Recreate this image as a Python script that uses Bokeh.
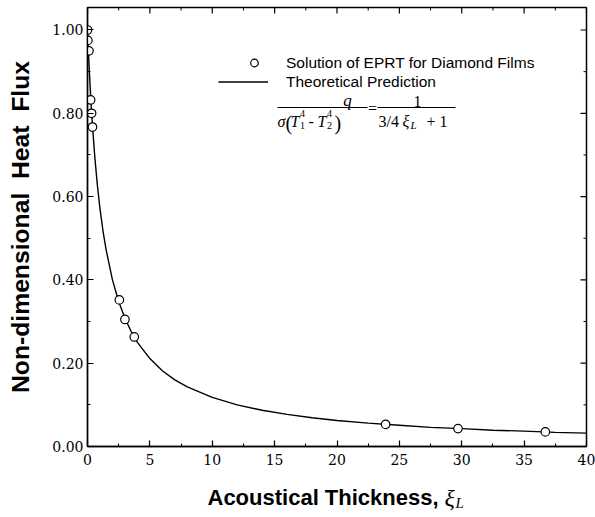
import math
from bokeh.plotting import figure
from bokeh.layouts import column
from bokeh.models import (Range1d, FixedTicker, PrintfTickFormatter,
                          Label, BoxAnnotation, Legend, LegendItem)
from bokeh.embed import file_html
from bokeh.resources import INLINE

# ---------------- data ----------------
curve_x = [0, 0.05, 0.1, 0.2, 0.3, 0.4, 0.6, 0.8, 1.0, 1.25, 1.5, 2.0, 2.5, 3.0,
           3.5, 4.0, 5, 6, 7, 8, 10, 12, 14, 16, 18, 20, 22.5, 25, 27.5, 30,
           32.5, 35, 37.5, 40]
curve_y = [1.000, 0.964, 0.930, 0.870, 0.816, 0.769, 0.690, 0.625, 0.571, 0.516,
           0.471, 0.400, 0.348, 0.308, 0.276, 0.250, 0.211, 0.182, 0.160, 0.143,
           0.118, 0.100, 0.087, 0.077, 0.069, 0.0625, 0.056, 0.051, 0.046, 0.043,
           0.039, 0.037, 0.034, 0.032]

eprt_x = [0.0, 0.03, 0.12, 0.25, 0.33, 0.40, 2.55, 3.0, 3.75, 23.9, 29.7, 36.7]
eprt_y = [1.000, 0.975, 0.950, 0.832, 0.800, 0.767, 0.352, 0.305, 0.263, 0.053, 0.043, 0.035]

x_ticks = [0, 5, 10, 15, 20, 25, 30, 35, 40]
x_minor = [2.5, 7.5, 12.5, 17.5, 22.5, 27.5, 32.5, 37.5]
y_ticks = [0.0, 0.2, 0.4, 0.6, 0.8, 1.0]
y_minor = [0.1, 0.3, 0.5, 0.7, 0.9]

legend_labels = ["Solution of EPRT for Diamond Films", "Theoretical Prediction"]
x_title = "Acoustical Thickness,"
y_title = "Non-dimensional\u00a0 Heat\u00a0 Flux"

# ---------------- layout ----------------
W = 595
H1 = 472           # main figure
H2 = 517 - H1      # strip holding the x title
BL, BR, BT, BB = 87, 9, 7, 26
XMAX, YMAX = 40, 1.054

p = figure(width=W, height=H1, x_range=Range1d(0, XMAX), y_range=Range1d(0, YMAX),
           output_backend="svg", toolbar_location=None,
           min_border_left=BL, min_border_right=BR, min_border_top=BT, min_border_bottom=BB)
p.xgrid.visible = False
p.ygrid.visible = False
p.outline_line_color = "black"
p.outline_line_width = 1.5
p.background_fill_color = "white"
p.border_fill_color = "white"


def px2d(px, py):
    fx = (px - BL) / (W - BL - BR) * XMAX
    fy = (H1 - BB - py) / (H1 - BT - BB) * YMAX
    return fx, fy


def style_axis(ax, ticks, minor):
    ax.ticker = FixedTicker(ticks=ticks, minor_ticks=minor)
    ax.major_tick_in = 6
    ax.major_tick_out = 0
    ax.minor_tick_in = 3
    ax.minor_tick_out = 0
    ax.axis_line_width = 1.3
    ax.axis_line_color = "black"
    ax.major_tick_line_color = "black"
    ax.minor_tick_line_color = "black"
    ax.major_tick_line_width = 1.2
    ax.minor_tick_line_width = 1.0
    ax.major_label_text_font = "DejaVu Serif"
    ax.major_label_text_color = "black"
    ax.major_label_text_font_size = "14px"


xa = p.xaxis[0]
ya = p.yaxis[0]
style_axis(xa, x_ticks, x_minor)
style_axis(ya, y_ticks, y_minor)
xa.major_label_standoff = 7
ya.major_label_standoff = 4
ya.formatter = PrintfTickFormatter(format="%.2f")
ya.axis_label = y_title
ya.axis_label_text_font = "Liberation Sans"
ya.axis_label_text_font_style = "bold"
ya.axis_label_text_font_size = "24.7px"
ya.axis_label_text_color = "black"
ya.axis_label_standoff = 15

# inward ticks on the top and right frame edges (half of each dash is clipped by the frame)
p.scatter(x_ticks, [YMAX] * len(x_ticks), marker="dash", angle=math.pi / 2, size=12,
          line_color="black", line_width=1.2)
p.scatter(x_minor, [YMAX] * len(x_minor), marker="dash", angle=math.pi / 2, size=6,
          line_color="black", line_width=1.0)
p.scatter([XMAX] * len(y_ticks), y_ticks, marker="dash", size=12,
          line_color="black", line_width=1.2)
p.scatter([XMAX] * len(y_minor), y_minor, marker="dash", size=6,
          line_color="black", line_width=1.0)

# ---------------- data marks ----------------
r_line = p.line(curve_x, curve_y, line_color="black", line_width=1.4)
r_pts = p.scatter(eprt_x, eprt_y, marker="circle", size=8.5, fill_color="white",
                  line_color="black", line_width=1.2)

leg_common = dict(glyph_height=19, label_height=19, spacing=0, padding=0, margin=0,
                  border_line_alpha=0, background_fill_alpha=0,
                  label_text_font="Liberation Sans", label_text_font_size="15.5px",
                  label_text_color="black")
leg1 = Legend(items=[LegendItem(label=legend_labels[0], renderers=[r_pts])],
              location=(230 - BL, H1 - BB - 72), glyph_width=48, label_standoff=8,
              **leg_common)
leg2 = Legend(items=[LegendItem(label=legend_labels[1], renderers=[r_line])],
              location=(218 - BL, H1 - BB - 91), glyph_width=50, label_standoff=18,
              **leg_common)
p.add_layout(leg1)
p.add_layout(leg2)


# ---------------- formula ----------------
def lab(fig, conv, text, px, py, size, font="Liberation Serif", style="italic", align="left"):
    x, y = conv(px, py)
    fig.add_layout(Label(x=x, y=y, text=text, text_font=font, text_font_style=style,
                         text_font_size=size, text_align=align,
                         text_baseline="alphabetic", text_color="black"))


def bar(px1, px2, py):
    x1, y1 = px2d(px1, py + 0.6)
    x2, y2 = px2d(px2, py - 0.6)
    p.add_layout(BoxAnnotation(left=x1, right=x2, bottom=y1, top=y2,
                               fill_color="black", fill_alpha=1, line_color=None))


lab(p, px2d, "q", 347, 100, "17px", align="center")
bar(277, 367, 107)
lab(p, px2d, "σ", 277, 121, "16px")
lab(p, px2d, "(", 285, 122, "20px", style="normal")
lab(p, px2d, "T", 290, 121, "16px")
lab(p, px2d, "4", 299.5, 113, "10px", style="normal")
lab(p, px2d, "1", 299.5, 125, "10px", style="normal")
lab(p, px2d, "-", 308, 121, "16px", style="normal")
lab(p, px2d, "T", 317, 121, "16px")
lab(p, px2d, "4", 326.5, 113, "10px", style="normal")
lab(p, px2d, "2", 326.5, 125, "10px", style="normal")
lab(p, px2d, ")", 334, 122, "20px", style="normal")
lab(p, px2d, "=", 372, 108, "16px", style="normal", align="center")
lab(p, px2d, "1", 417, 101, "16px", style="normal", align="center")
bar(377, 455, 107)
lab(p, px2d, "3/4", 378, 121, "16px", style="normal")
lab(p, px2d, "ξ", 402, 121, "16px")
lab(p, px2d, "L", 410, 124, "11px")
lab(p, px2d, "+ 1", 426, 121, "16px", style="normal")

# ---------------- x-axis title strip (its frame lines up with the main frame) ----------------
q = figure(width=W, height=H2, x_range=Range1d(BL, W - BR), y_range=Range1d(H1 + H2, H1),
           output_backend="svg", toolbar_location=None,
           min_border_left=BL, min_border_right=BR, min_border_top=0, min_border_bottom=0,
           x_axis_location=None, y_axis_location=None)
q.grid.visible = False
q.outline_line_color = None
q.background_fill_color = "white"
q.border_fill_color = "white"


def strip(px, py):
    return px, py


lab(q, strip, x_title, 207, 497, "22px", font="Liberation Sans", style="bold")
lab(q, strip, "ξ", 444, 497, "24px")
lab(q, strip, "L", 455, 502, "15px")

layout = column(p, q, spacing=0)
open("out.html", "w").write(file_html(layout, INLINE))
